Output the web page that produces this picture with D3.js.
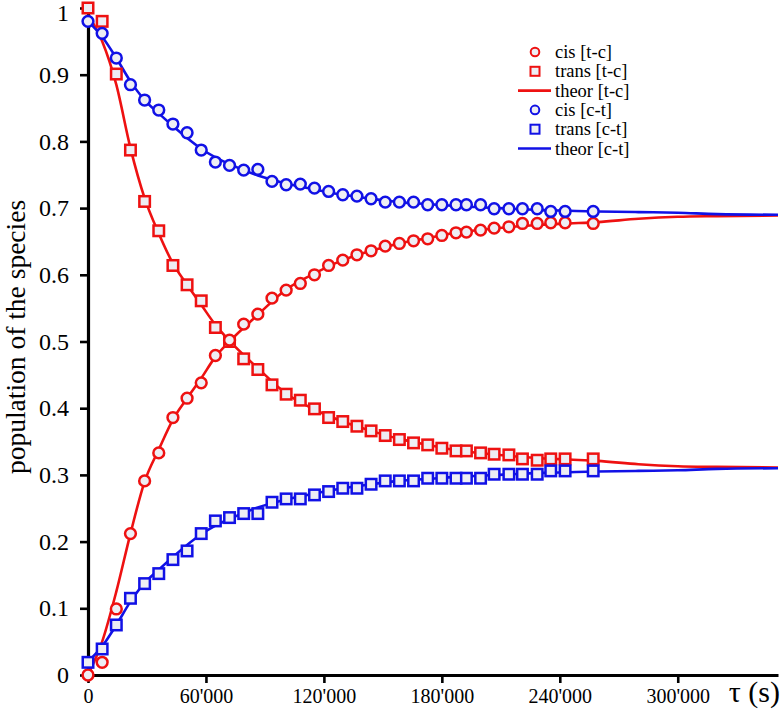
<!DOCTYPE html>
<html>
<head>
<meta charset="utf-8">
<script src="https://cdn.jsdelivr.net/npm/d3@7"></script>
<style>
  html, body { margin: 0; padding: 0; background: #fff; }
  svg { display: block; }
  text { font-family: "Liberation Serif", "Times New Roman", serif; fill: #000; }
</style>
</head>
<body>
<svg id="chart" width="783" height="712"></svg>
<script>
// ---------------- DATA ----------------
const times = [0, 7200, 14400, 21600, 28800, 36000, 43200, 50400, 57600, 64800,
  72000, 79200, 86400, 93600, 100800, 108000, 115200, 122400, 129600, 136800,
  144000, 151200, 158400, 165600, 172800, 180000, 187200, 192500, 199700, 206600,
  214100, 221000, 228500, 235400, 242700, 257000];

const cisTC = [0.000, 0.019, 0.099, 0.212, 0.291, 0.333, 0.386, 0.415, 0.438, 0.479,
  0.502, 0.526, 0.541, 0.565, 0.577, 0.587, 0.600, 0.614, 0.622, 0.630,
  0.636, 0.643, 0.647, 0.651, 0.654, 0.659, 0.663, 0.664, 0.667, 0.670,
  0.672, 0.677, 0.677, 0.678, 0.678, 0.677];

const transTC = [1.000, 0.980, 0.901, 0.787, 0.710, 0.666, 0.614, 0.585, 0.561, 0.521,
  0.500, 0.474, 0.458, 0.435, 0.421, 0.412, 0.399, 0.386, 0.380, 0.373,
  0.366, 0.359, 0.353, 0.348, 0.345, 0.340, 0.336, 0.336, 0.333, 0.331,
  0.330, 0.324, 0.322, 0.324, 0.324, 0.324];

const cisCT = [0.980, 0.962, 0.925, 0.885, 0.862, 0.847, 0.826, 0.813, 0.787, 0.769,
  0.764, 0.757, 0.758, 0.740, 0.735, 0.736, 0.730, 0.725, 0.720, 0.718,
  0.714, 0.709, 0.709, 0.709, 0.705, 0.705, 0.705, 0.705, 0.705, 0.699,
  0.699, 0.699, 0.699, 0.695, 0.695, 0.695];

const transCT = [0.019, 0.039, 0.075, 0.115, 0.137, 0.152, 0.173, 0.186, 0.212, 0.231,
  0.236, 0.242, 0.242, 0.259, 0.264, 0.264, 0.270, 0.275, 0.280, 0.280,
  0.286, 0.291, 0.291, 0.291, 0.295, 0.295, 0.295, 0.295, 0.295, 0.301,
  0.301, 0.301, 0.301, 0.306, 0.306, 0.306];

// theoretical curves
const theorTimes = [0, 7200, 14400, 21600, 28800, 36000, 43200, 50400, 57600, 64800,
  72000, 86400, 100800, 115200, 129600, 144000, 158400, 172800, 187200, 201600,
  216000, 230400, 244800, 259200, 280000, 300000, 320000, 351000];

const theorTransTC = [0.99, 0.95, 0.885, 0.79, 0.715, 0.662, 0.617, 0.585, 0.555, 0.525,
  0.501, 0.460, 0.422, 0.398, 0.380, 0.366, 0.354, 0.345, 0.337, 0.332,
  0.328, 0.325, 0.323, 0.321, 0.316, 0.313, 0.312, 0.311];

const theorCisTC = [0.0, 0.05, 0.125, 0.212, 0.290, 0.338, 0.383, 0.415, 0.445, 0.477,
  0.500, 0.540, 0.578, 0.602, 0.622, 0.636, 0.647, 0.655, 0.663, 0.668,
  0.672, 0.675, 0.677, 0.679, 0.684, 0.687, 0.688, 0.689];

const theorCisCT = [0.98, 0.957, 0.925, 0.89, 0.862, 0.842, 0.823, 0.805, 0.789, 0.776,
  0.766, 0.749, 0.737, 0.728, 0.720, 0.714, 0.709, 0.706, 0.703, 0.701,
  0.699, 0.697, 0.696, 0.695, 0.694, 0.693, 0.691, 0.690];

const theorTransCT = [0.02, 0.043, 0.075, 0.11, 0.138, 0.158, 0.177, 0.195, 0.211, 0.224,
  0.234, 0.251, 0.263, 0.272, 0.280, 0.286, 0.291, 0.294, 0.297, 0.299,
  0.301, 0.303, 0.304, 0.305, 0.306, 0.307, 0.309, 0.310];

const xTicks = [0, 60000, 120000, 180000, 240000, 300000];
const yTicks = [0, 0.1, 0.2, 0.3, 0.4, 0.5, 0.6, 0.7, 0.8, 0.9, 1];

const legendLabels = ["cis [t-c]", "trans [t-c]", "theor [t-c]", "cis [c-t]", "trans [c-t]", "theor [c-t]"];
const legendKinds = ["circle", "square", "line", "circle", "square", "line"];

const xTitle = "\u03C4 (s)";
const yTitle = "population of the species";

// ---------------- STYLE ----------------
const RED = "#ee1111";
const BLUE = "#1111e6";
const MFILL = "#eeeef4";
const legendColors = [RED, RED, RED, BLUE, BLUE, BLUE];

const svg = d3.select("#chart");
const x = d3.scaleLinear().domain([0, 351000]).range([88, 778]);
const y = d3.scaleLinear().domain([0, 1]).range([675, 8]);

// ---------------- THEORETICAL LINES ----------------
const line = d3.line().curve(d3.curveMonotoneX);
function theor(vals, color) {
  svg.append("path")
    .attr("d", line(theorTimes.map((t, i) => [x(t), y(vals[i])])))
    .attr("fill", "none")
    .attr("stroke", color)
    .attr("stroke-width", 2.6);
}
theor(theorCisTC, RED);
theor(theorTransTC, RED);
theor(theorCisCT, BLUE);
theor(theorTransCT, BLUE);

// ---------------- AXES ----------------
const fmtX = d => d === 0 ? "0" : d3.format(",")(d).replace(/,/g, "'");
const fmtY = d => (d === 0 || d === 1) ? String(d) : d.toFixed(1);

const gx = svg.append("g").attr("transform", "translate(0,675)")
  .call(d3.axisBottom(x).tickValues(xTicks).tickFormat(fmtX).tickSize(8).tickSizeOuter(0).tickPadding(6));
const gy = svg.append("g").attr("transform", "translate(88,0)")
  .call(d3.axisLeft(y).tickValues(yTicks).tickFormat(fmtY).tickSize(8).tickSizeOuter(0).tickPadding(11));

[gx, gy].forEach(g => {
  g.select(".domain").attr("stroke", "#000").attr("stroke-width", 3.2);
  g.selectAll(".tick line").attr("stroke", "#000").attr("stroke-width", 2.6);
});
gx.selectAll(".tick text").attr("font-size", 20).attr("font-family", "Liberation Serif, serif").attr("fill", "#000");
gy.selectAll(".tick text").attr("font-size", 24).attr("font-family", "Liberation Serif, serif").attr("fill", "#000")
  .attr("dy", d => d === 1 ? "0.5em" : "0.32em");

svg.append("text")
  .attr("x", 780).attr("y", 702)
  .attr("text-anchor", "end")
  .attr("font-size", 30)
  .text(xTitle);

svg.append("text")
  .attr("transform", "translate(25,337) rotate(-90)")
  .attr("text-anchor", "middle")
  .attr("font-size", 27.5)
  .text(yTitle);

// ---------------- MARKERS ----------------
function circles(vals, color) {
  svg.append("g").selectAll("circle").data(vals).join("circle")
    .attr("cx", (d, i) => x(times[i]))
    .attr("cy", d => y(d))
    .attr("r", 5.4)
    .attr("fill", MFILL)
    .attr("stroke", color)
    .attr("stroke-width", 2.5);
}
function squares(vals, color) {
  const s = 10.5;
  svg.append("g").selectAll("rect").data(vals).join("rect")
    .attr("x", (d, i) => x(times[i]) - s / 2)
    .attr("y", d => y(d) - s / 2)
    .attr("width", s).attr("height", s)
    .attr("fill", MFILL)
    .attr("stroke", color)
    .attr("stroke-width", 2.5);
}
squares(transTC, RED);
circles(cisTC, RED);
squares(transCT, BLUE);
circles(cisCT, BLUE);

// ---------------- LEGEND ----------------
const lg = svg.append("g");
const rowY = d3.scaleLinear().domain([0, 5]).range([52, 148.5]);
legendLabels.forEach((lab, i) => {
  const cy = rowY(i);
  const c = legendColors[i];
  if (legendKinds[i] === "circle") {
    lg.append("circle").attr("cx", 535).attr("cy", cy).attr("r", 4.3)
      .attr("fill", MFILL).attr("stroke", c).attr("stroke-width", 2);
  } else if (legendKinds[i] === "square") {
    lg.append("rect").attr("x", 530.5).attr("y", cy - 4.5).attr("width", 9).attr("height", 9)
      .attr("fill", MFILL).attr("stroke", c).attr("stroke-width", 2);
  } else {
    lg.append("line").attr("x1", 518).attr("x2", 551).attr("y1", cy).attr("y2", cy)
      .attr("stroke", c).attr("stroke-width", 2.6);
  }
  lg.append("text").attr("x", 555).attr("y", cy + 6)
    .attr("font-size", 18.5).text(lab);
});
</script>
</body>
</html>
